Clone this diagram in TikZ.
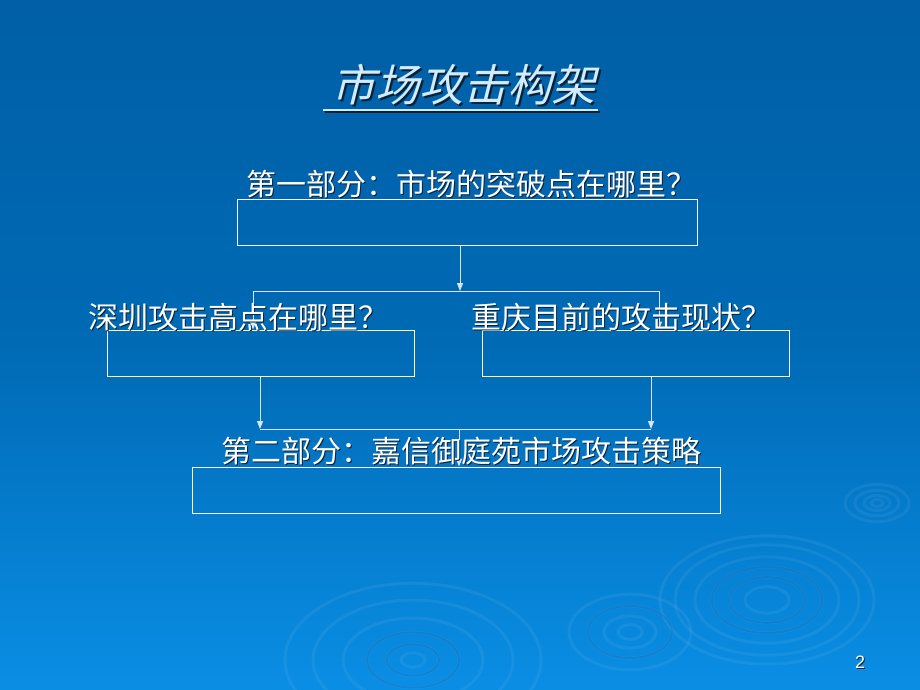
\documentclass[tikz,border=0pt]{standalone}
\usepackage{fontspec}
\setmainfont{Liberation Sans}
\newfontfamily\cjk{Noto Sans CJK SC}
\newfontfamily\cjkslant[FakeSlant=0.25]{Noto Sans CJK SC}
\usetikzlibrary{arrows.meta,calc}
\definecolor{bgtop}{HTML}{005FA6}
\definecolor{bgmid}{HTML}{006AB5}
\definecolor{bgbot}{HTML}{0A8EE4}
\definecolor{titlecol}{HTML}{D2ECFF}
\definecolor{conncol}{HTML}{D8E6F4}
\definecolor{shadowcol}{HTML}{0A2238}
\definecolor{ripdark}{HTML}{0062B4}
\tikzset{
  box/.style={draw=white, line width=1pt, inner sep=0pt, minimum height=46pt},
  conn/.style={draw=conncol, line width=1pt},
  arr/.style={conn, -{Triangle[width=6pt,length=8pt]}},
  bodytxt/.style={anchor=base, inner sep=0pt, text=white, font=\cjk\fontsize{30}{36}\selectfont},
  titletxt/.style={anchor=base, inner sep=0pt, text=titlecol, font=\cjkslant\fontsize{44}{52}\selectfont},
  ripple/.style={draw=white, draw opacity=0.06, line width=3pt},
  ripdk/.style={draw=ripdark, draw opacity=0.3, line width=2pt},
}
% text with a drop shadow, in one node
\newcommand{\shadowed}[3]{\rlap{\hspace{#1}\raisebox{-#1}{\color{#2}#3}}#3}
\begin{document}
\begin{tikzpicture}[x=1pt,y=-1pt]
\useasboundingbox (0,0) rectangle (920,690);
\shade[top color=bgtop, bottom color=bgbot, middle color=bgmid] (0,0) rectangle (920,690);

% ripples
\foreach \r in {107,92,72,55,38,22}{
  \draw[ripple] (767,600) ellipse ({\r} and {0.6*\r});
}
\foreach \r in {55,38}{
  \draw[ripdk] (767,600) ellipse ({\r} and {0.6*\r});
}
\foreach \r in {32,22,13,6}{
  \draw[ripple] (877,503) ellipse ({\r} and {0.58*\r});
}
\foreach \r in {61,42,26,12}{
  \draw[ripple] (630,632) ellipse ({\r} and {0.62*\r});
}
\draw[ripdk] (630,632) ellipse (42 and 26);
\foreach \r in {128,100,70,46,26,12}{
  \draw[ripple] (413,660) ellipse ({\r} and {0.6*\r});
}
\foreach \r in {46,26}{
  \draw[ripdk] (413,660) ellipse ({\r} and {0.6*\r});
}

% title
\node[titletxt] (title) at (463,102) {\shadowed{2pt}{shadowcol}{市场攻击构架}};
\draw[shadowcol, line width=2pt] (325,112) -- (600,112);
\draw[titlecol, line width=2pt] (323,110) -- (598,110);

% boxes
\node[box, minimum width=460pt] (b1) at (467,222) {};
\node[box, minimum width=307pt] (b2) at (260.5,353) {};
\node[box, minimum width=307pt] (b3) at (635.5,353) {};
\node[box, minimum width=528pt] (b4) at (456,490) {};

% junctions
\coordinate (j1) at (460,291);
\coordinate (jL) at (253,291);
\coordinate (jR) at (659,291);
\coordinate (kL) at (260,429);
\coordinate (kR) at (651,429);
\coordinate (k) at (459,429);

% connectors
\draw[arr] (b1.south -| j1) -- (j1);
\draw[conn] (jL) -- (jR);
\draw[arr] (jL) -- (b2.north -| jL);
\draw[arr] (jR) -- (b3.north -| jR);
\draw[arr] (b2.south -| kL) -- (kL);
\draw[arr] (b3.south -| kR) -- (kR);
\draw[conn] (kL) -- (kR);
\draw[arr] (k) -- (b4.north -| k);

% texts
\node[bodytxt] (t1) at (471,195) {\shadowed{1.5pt}{shadowcol}{第一部分：市场的突破点在哪里？}};
\node[bodytxt] (t2) at (238,328) {\shadowed{1.5pt}{shadowcol}{深圳攻击高点在哪里？}};
\node[bodytxt] (t3) at (621,328) {\shadowed{1.5pt}{shadowcol}{重庆目前的攻击现状？}};
\node[bodytxt] (t4) at (461,462) {\shadowed{1.5pt}{shadowcol}{第二部分：嘉信御庭苑市场攻击策略}};

% page number
\node[anchor=base, inner sep=0pt, text=white, font=\fontsize{18}{20}\selectfont] (pg) at (860,668) {\shadowed{1pt}{shadowcol}{2}};
\end{tikzpicture}
\end{document}
